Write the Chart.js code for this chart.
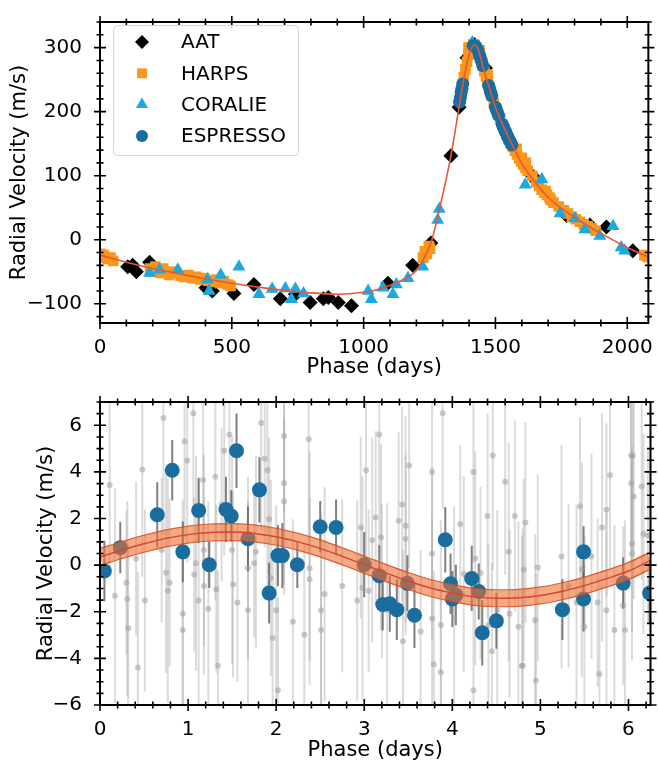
<!DOCTYPE html>
<html>
<head>
<meta charset="utf-8">
<script src="https://cdn.jsdelivr.net/npm/chart.js@4.4.1/dist/chart.umd.min.js"></script>
<style>
  html, body { margin: 0; padding: 0; background: #fff; }
  #wrap { position: relative; width: 658px; height: 764px; }
  canvas { position: absolute; left: 0; }
  #rvChart { top: 0; }
  #resChart { top: 380px; }
</style>
</head>
<body>
<div id="wrap">
  <canvas id="rvChart" width="658" height="380" style="width:658px;height:380px"></canvas>
  <canvas id="resChart" width="658" height="384" style="width:658px;height:384px"></canvas>
</div>
<script>
// ---- top panel: phase-folded RVs (days, m/s) ----
const aatPhase = [105, 124, 138, 188, 402, 426, 508, 584, 684, 741, 797, 847, 866, 904, 954,
  1092, 1186, 1255, 1331, 1362, 1392, 1420, 1462, 1640, 1650, 1770, 1858, 1921, 2021];
const aatRv = [-42, -40, -50, -35, -75, -80, -84, -70, -92, -85, -98, -92, -90, -98, -103,
  -68, -40, -5, 131, 207, 284, 305, 268, 100, 94, 38, 23, 20, -17];

const harpsPhase = [2, 8, 15, 22, 30, 40, 50,
  190, 200, 210, 220, 230, 240, 250, 262, 275, 290,
  305, 320, 335, 350, 365, 380, 395, 410, 425, 440,
  455, 470, 485, 495,
  1225, 1232, 1240, 1248, 1252,
  1368, 1374, 1380, 1386, 1392, 1398, 1404, 1410, 1416, 1422,
  1428, 1434, 1440, 1446, 1452, 1458, 1464, 1470, 1478, 1486,
  1494, 1502, 1510, 1518, 1526, 1534, 1542, 1550, 1558, 1566,
  1574, 1582, 1590, 1598, 1606, 1614, 1622, 1640, 1655, 1665,
  1675, 1685, 1695, 1705, 1720, 1740, 1760, 1775, 1790, 1805,
  1820, 1835, 1850, 1865, 1880, 2065, 2078,
  1580, 1600, 1615, 1690, 1710, 1398, 1440, 1470];
const harpsRv = [-22, -25, -24, -28, -30, -28, -33,
  -45, -50, -42, -48, -52, -45, -50, -55, -50, -52,
  -56, -58, -55, -60, -58, -62, -60, -64, -66, -62,
  -68, -65, -70, -72,
  -28, -18, -22, -10, -14,
  230, 242, 254, 266, 278, 289, 296, 301, 305, 304,
  300, 294, 288, 280, 272, 263, 255, 247, 236, 225,
  214, 205, 196, 188, 180, 172, 165, 158, 151, 145,
  139, 133, 127, 122, 117, 112, 108, 100, 90, 84,
  78, 74, 70, 66, 58, 52, 46, 41, 36, 32,
  28, 24, 21, 18, 14, -24, -27,
  142, 128, 120, 76, 62, 300, 296, 258];

const coraliePhase = [188, 226, 295, 408, 414, 458, 527, 603, 653, 703, 726, 741, 772,
  1017, 1029, 1073, 1111, 1124, 1168, 1224, 1281, 1287, 1412,
  1613, 1676, 1745, 1801, 1839, 1896, 1946, 1977, 1990];
const coralieRv = [-52, -47, -47, -62, -80, -55, -42, -85, -77, -76, -93, -77, -84,
  -80, -93, -75, -85, -70, -60, -42, 31, 48, 308,
  86, 94, 41, 33, 16, 6, 21, -12, -17];

const espressoPhase = [1364, 1367, 1370, 1373, 1376, 1416, 1422, 1428, 1434, 1440,
  1446, 1452, 1474, 1478, 1482, 1486, 1500, 1504, 1508, 1512,
  1526, 1530, 1534, 1538, 1542, 1546, 1550, 1554, 1558, 1562];
const espressoRv = [215, 222, 230, 236, 243, 303, 303, 300, 295, 288,
  280, 272, 241, 236, 230, 225, 207, 203, 198, 194,
  180, 176, 172, 169, 165, 161, 158, 154, 151, 148];

const modelPhase = [0, 100, 200, 300, 400, 500, 600, 700, 800, 900, 1000, 1050, 1100, 1150,
  1200, 1230, 1255, 1270, 1300, 1331, 1362, 1385, 1405, 1420, 1435, 1455, 1480, 1500,
  1550, 1600, 1650, 1700, 1800, 1900, 2000, 2080];
const modelRv = [-24, -35, -45, -53, -61, -68, -74, -79, -83, -85, -82, -78, -71, -62,
  -48, -28, -5, 17, 70, 131, 207, 262, 295, 304, 297, 266, 233, 207,
  160, 119, 90, 66, 35, 10, -12, -27];

const topXTicks = [0, 500, 1000, 1500, 2000];
const topYTicks = [-100, 0, 100, 200, 300];

// ---- bottom panel: residuals folded on short period (days, m/s) ----
const grayPhase = [0.11, 0.17, 0.30, 0.31, 0.32, 0.41, 0.43, 0.48, 0.51, 0.72,
  0.70, 0.75, 0.79, 0.77, 0.96, 0.94, 0.94, 0.99, 1.06, 1.07,
  1.09, 1.12, 1.17, 1.18, 1.18, 1.23, 1.31, 1.32, 1.34, 1.38,
  1.41, 1.47, 1.50, 1.51, 1.56, 1.68, 1.68, 1.75, 1.77, 1.83,
  1.87, 1.90, 1.92, 1.94, 1.96, 2.00, 2.02, 2.09, 2.09, 2.09,
  2.19, 2.32, 2.37, 2.38, 2.38, 2.51, 2.51, 2.55, 2.75, 2.92,
  2.96, 2.98, 3.02, 3.05, 3.09, 3.13, 3.17, 3.19, 3.20, 3.26,
  3.39, 3.43, 3.47, 3.47, 3.44, 3.51, 3.64, 3.77, 3.77, 3.77,
  3.79, 3.87, 3.87, 3.89, 4.02, 4.09, 4.13, 4.24, 4.26, 4.32,
  4.24, 4.40, 4.45, 4.46, 4.41, 4.51, 4.60, 4.64, 4.65, 4.71,
  4.75, 4.79, 4.80, 4.81, 4.83, 4.94, 4.95, 4.97, 5.24, 5.32,
  5.41, 5.45, 5.47, 5.50, 5.58, 5.65, 5.67, 5.70, 5.75, 5.75,
  5.79, 5.84, 5.94, 5.96, 6.03, 6.05, 6.03, 6.06, 6.04, 6.04,
  6.15, 6.17, 6.22];
const grayRv = [3.44, -1.31, -0.75, -1.45, -2.71, 0.29, -4.39, 4.10, -1.52, 6.31,
  0.65, -0.33, -0.75, -1.10, 5.30, -2.08, -2.78, 4.49, 6.52, -0.40,
  0.08, -1.52, 3.65, 0.65, -0.89, -1.87, 3.79, -1.03, -4.32, 2.60,
  4.91, 5.61, 0.65, -0.82, -1.60, -1.94, -0.12, 0.08, 0.57, 6.10,
  4.56, 4.07, 1.97, -0.55, -3.13, -1.94, -5.37, 5.54, 3.51, 2.74,
  -2.43, -2.99, 5.40, -0.61, -0.13, -1.94, -2.78, -1.24, -0.89, -1.52,
  1.62, -0.97, 4.07, -1.10, 1.07, 2.04, 5.61, 1.20, -0.68, -1.94,
  1.90, 2.60, 1.13, 1.69, -3.27, 4.28, -2.85, 4.00, 0.50, -2.29,
  -4.25, -2.57, -4.60, 6.52, -2.29, 1.76, -0.38, 4.00, 0.29, -0.34,
  -5.37, 2.11, -3.69, 4.70, -2.57, -1.94, 3.58, 0.57, -2.08, 2.11,
  -2.64, -4.32, -4.32, -0.19, 1.83, -2.36, -4.95, -0.10, 0.37, -0.89,
  -1.60, 2.53, -0.19, -2.64, 0.37, -1.60, -4.67, 1.62, 2.39, -1.94,
  3.86, -2.78, -1.73, -2.78, 4.70, 4.70, 3.51, 2.95, 0.92, 0.50,
  3.37, 1.34, 1.27];
const grayErr = [3.6, 4.6, 3.1, 4.2, 3.6, 3.3, 4.1, 4.6, 3.9, 5.0,
  3.1, 4.3, 3.6, 4.8, 4.1, 4.9, 3.7, 4.4, 3.9, 3.3,
  4.6, 5.2, 3.5, 4.1, 3.8, 4.6, 5.3, 3.6, 4.1, 3.3,
  4.5, 3.7, 4.9, 4.0, 3.4, 4.7, 3.9, 3.2, 4.1, 4.6,
  3.8, 5.0, 3.5, 4.2, 3.7, 4.5, 4.0, 3.3, 4.8, 3.6,
  4.4, 3.9, 4.7, 3.5, 5.0, 4.1, 3.4, 4.6, 3.7, 4.3,
  3.9, 4.8, 4.1, 3.5, 4.4, 3.7, 4.9, 4.0, 3.3, 4.6,
  3.8, 4.2, 3.6, 4.7, 3.9, 4.4, 3.5, 5.0, 3.7, 4.3,
  4.0, 4.5, 3.6, 4.1, 4.8, 3.4, 4.2, 3.9, 4.6, 3.7,
  4.1, 4.4, 3.8, 4.9, 3.5, 4.3, 4.0, 4.7, 3.6, 4.1,
  4.5, 5.6, 5.9, 3.9, 4.3, 3.7, 4.6, 4.0, 4.8, 3.5,
  4.2, 3.8, 4.6, 3.9, 4.4, 3.6, 4.1, 4.9, 3.7, 4.3,
  4.0, 4.5, 3.4, 4.7, 3.9, 4.1, 3.6, 4.4, 3.8, 4.6,
  4.0, 4.3, 3.7];

const bluePhase = [0.05, 0.23, 0.65, 0.82, 0.94, 1.12, 1.24, 1.43, 1.49, 1.55,
  1.68, 1.81, 1.92, 2.02, 2.07, 2.24, 2.50, 2.68, 3.00, 3.17,
  3.21, 3.29, 3.37, 3.49, 3.57, 3.92, 3.98, 4.00, 4.04, 4.22,
  4.30, 4.34, 4.50, 5.25, 5.49, 5.49, 5.94, 6.24];
const blueRv = [-0.25, 0.75, 2.16, 4.07, 0.57, 2.35, 0.02, 2.39, 2.11, 4.91,
  1.13, 3.23, -1.20, 0.41, 0.41, 0.02, 1.65, 1.62, 0.02, -0.45,
  -1.69, -1.66, -1.91, -0.78, -2.15, 1.09, -0.80, -1.45, -1.28, -0.57,
  -1.13, -2.90, -2.39, -1.91, 0.57, -1.45, -0.77, -1.20];
const blueErr = [1.3, 1.1, 1.4, 1.3, 1.3, 1.4, 1.0, 1.4, 1.1, 1.6,
  1.4, 1.4, 1.3, 1.3, 1.4, 1.0, 1.1, 1.2, 1.4, 1.3,
  1.1, 1.2, 1.3, 1.2, 1.4, 1.4, 1.3, 1.2, 1.3, 1.4,
  1.2, 1.4, 1.2, 1.3, 1.1, 1.4, 1.1, 1.3];

const sinePhase = [0, 0.25, 0.5, 0.75, 1.0, 1.25, 1.5, 1.75, 2.0, 2.25, 2.5, 2.75, 3.0,
  3.25, 3.5, 3.75, 4.0, 4.25, 4.5, 4.75, 5.0, 5.25, 5.5, 5.75, 6.0, 6.25];
const sineRv = [0.35, 0.65, 0.92, 1.15, 1.31, 1.40, 1.42, 1.36, 1.22, 1.00, 0.72, 0.38, 0.02,
  -0.34, -0.68, -0.98, -1.20, -1.36, -1.42, -1.40, -1.30, -1.12, -0.88, -0.58, -0.25, 0.20];

const botXTicks = [0, 1, 2, 3, 4, 5, 6];
const botYTicks = [-6, -4, -2, 0, 2, 4, 6];

const topTicks = { xStep: 500, xMinor: 100, yStep: 100, yMinor: 20 };
const botTicks = { xStep: 1, xMinor: 0.2, yStep: 2, yMinor: 0.5 };

// ---- helpers ----
const FONT = '"DejaVu Sans", sans-serif';
const fmt = v => String(v).replace('-', '\u2212');
const pts = (xs, ys) => xs.map((x, i) => ({ x, y: ys[i] }));

function drawMarker(ctx, style, r, x, y) {
  ctx.beginPath();
  if (style === 'rectRot') {
    ctx.moveTo(x, y - r); ctx.lineTo(x + r, y); ctx.lineTo(x, y + r); ctx.lineTo(x - r, y);
  } else if (style === 'rect') {
    const s = r * Math.SQRT1_2;
    ctx.rect(x - s, y - s, 2 * s, 2 * s);
  } else if (style === 'triangle') {
    ctx.moveTo(x, y - r);
    ctx.lineTo(x + r * 0.866, y + r * 0.5);
    ctx.lineTo(x - r * 0.866, y + r * 0.5);
  } else {
    ctx.arc(x, y, r, 0, Math.PI * 2);
  }
  ctx.closePath();
  ctx.fill();
}

function axisFrame(t) {
  return {
    id: 'axisFrame',
    afterDatasetsDraw(chart) {
      const { ctx, chartArea: a, scales: { x, y } } = chart;
      const marks = (scale, step, major) => {
        const out = [];
        for (let k = Math.ceil(scale.min / step - 1e-6); k * step <= scale.max + 1e-6; k++) {
          const v = k * step;
          const r = v / major;
          out.push({ p: scale.getPixelForValue(v), big: Math.abs(r - Math.round(r)) < 1e-6 });
        }
        return out;
      };
      ctx.save();
      ctx.strokeStyle = '#000';
      ctx.lineWidth = 1.6;
      ctx.beginPath();
      marks(x, t.xMinor, t.xStep).forEach(({ p, big }) => {
        const l = big ? 6 : 3.5;
        ctx.moveTo(p, a.bottom - l); ctx.lineTo(p, a.bottom + l);
        ctx.moveTo(p, a.top - l); ctx.lineTo(p, a.top + l);
      });
      marks(y, t.yMinor, t.yStep).forEach(({ p, big }) => {
        const l = big ? 6 : 3.5;
        ctx.moveTo(a.left - l, p); ctx.lineTo(a.left + l, p);
        ctx.moveTo(a.right - l, p); ctx.lineTo(a.right + l, p);
      });
      ctx.stroke();
      ctx.lineWidth = 2;
      ctx.strokeRect(a.left, a.top, a.right - a.left, a.bottom - a.top);
      ctx.restore();
    }
  };
}

function scales(o) {
  return {
    x: {
      type: 'linear', min: o.xMin, max: o.xMax,
      grid: { display: false }, border: { display: false },
      afterBuildTicks: s => { s.ticks = o.xTicks.map(value => ({ value })); },
      ticks: {
        maxRotation: 0, autoSkip: false,
        color: '#000', font: { family: FONT, size: 20 }, padding: 5, callback: fmt
      },
      title: {
        display: true, text: 'Phase (days)', color: '#000',
        font: { family: FONT, size: 21 }, padding: { top: 0, bottom: o.xTitlePad }
      },
      afterFit: s => { s.height = o.xHeight; }
    },
    y: {
      type: 'linear', min: o.yMin, max: o.yMax,
      grid: { display: false }, border: { display: false },
      afterBuildTicks: s => { s.ticks = o.yTicks.map(value => ({ value })); },
      ticks: {
        autoSkip: false,
        color: '#000', font: { family: FONT, size: 20 }, padding: 10, callback: fmt
      },
      title: {
        display: true, text: 'Radial Velocity (m/s)', color: '#000',
        font: { family: FONT, size: 21 }, padding: { top: o.yTitlePad, bottom: 0 }
      },
      afterFit: s => { s.width = 100; }
    }
  };
}

// ---- top chart ----
const topSets = [
  { label: 'model', data: pts(modelPhase, modelRv), showLine: true, pointRadius: 0,
    borderColor: '#e4573a', borderWidth: 1.6, cubicInterpolationMode: 'monotone', clip: 0 },
  { label: 'ESPRESSO', data: pts(espressoPhase, espressoRv), pointStyle: 'circle', pointRadius: 6.5,
    backgroundColor: '#1a6d9f', borderWidth: 0, clip: 0 },
  { label: 'CORALIE', data: pts(coraliePhase, coralieRv), pointStyle: 'triangle', pointRadius: 7.5,
    backgroundColor: '#1ba9e0', borderWidth: 0, clip: 0 },
  { label: 'HARPS', data: pts(harpsPhase, harpsRv), pointStyle: 'rect', pointRadius: 7.5,
    backgroundColor: '#fb961a', borderWidth: 0, clip: 0 },
  { label: 'AAT', data: pts(aatPhase, aatRv), pointStyle: 'rectRot', pointRadius: 7.5,
    backgroundColor: '#000', borderWidth: 0, clip: 0 }
];

const legendBox = {
  id: 'legendBox',
  afterDraw(chart) {
    const ctx = chart.ctx;
    const entries = ['AAT', 'HARPS', 'CORALIE', 'ESPRESSO']
      .map(n => chart.data.datasets.find(d => d.label === n));
    ctx.save();
    ctx.beginPath();
    ctx.roundRect(113.5, 25.5, 185, 130, 4);
    ctx.fillStyle = 'rgba(255,255,255,0.85)';
    ctx.fill();
    ctx.strokeStyle = '#d6d6d6';
    ctx.lineWidth = 1;
    ctx.stroke();
    ctx.font = '20px ' + FONT;
    ctx.textBaseline = 'middle';
    entries.forEach((d, i) => {
      const yy = 42 + i * 31.3;
      ctx.fillStyle = d.backgroundColor;
      drawMarker(ctx, d.pointStyle, d.pointStyle === 'circle' ? 6 : 7, 142, yy);
      ctx.fillStyle = '#000';
      ctx.fillText(d.label, 181, yy + 1);
    });
    ctx.restore();
  }
};

new Chart(document.getElementById('rvChart'), {
  type: 'scatter',
  data: { datasets: topSets },
  options: {
    responsive: false, animation: false, devicePixelRatio: 1, events: [],
    layout: { padding: { top: 13, right: 5, left: 0, bottom: 0 } },
    scales: scales({ xMin: 0, xMax: 2080, xTicks: topXTicks, yMin: -130, yMax: 340,
      yTicks: topYTicks, xHeight: 57, xTitlePad: 0, yTitlePad: 7 }),
    plugins: { legend: { display: false }, tooltip: { enabled: false } }
  },
  plugins: [axisFrame(topTicks), legendBox]
});

// ---- bottom chart ----
const errorBars = {
  id: 'errorBars',
  beforeDatasetsDraw(chart) {
    const { ctx, chartArea: a, scales: { x, y } } = chart;
    const sets = [
      { xs: grayPhase, ys: grayRv, es: grayErr, color: 'rgba(170,170,170,0.42)' },
      { xs: bluePhase, ys: blueRv, es: blueErr, color: 'rgba(85,85,85,0.75)' }
    ];
    ctx.save();
    ctx.beginPath();
    ctx.rect(a.left, a.top, a.right - a.left, a.bottom - a.top);
    ctx.clip();
    ctx.lineWidth = 2;
    sets.forEach(s => {
      ctx.strokeStyle = s.color;
      s.xs.forEach((v, i) => {
        const px = x.getPixelForValue(v);
        ctx.beginPath();
        ctx.moveTo(px, y.getPixelForValue(s.ys[i] - s.es[i]));
        ctx.lineTo(px, y.getPixelForValue(s.ys[i] + s.es[i]));
        ctx.stroke();
      });
    });
    ctx.restore();
  },
  beforeDatasetDraw(chart, args) {
    if (args.index !== 0) return;
    const { ctx, chartArea: a } = chart;
    const line = args.meta.dataset;
    if (line.updateControlPoints) line.updateControlPoints(a, 'x');
    const h = 8.5;
    ctx.save();
    ctx.beginPath();
    ctx.rect(a.left, a.top, a.right - a.left, a.bottom - a.top);
    ctx.clip();
    ctx.lineJoin = 'round';
    ctx.beginPath();
    line.path(ctx);
    ctx.lineWidth = 2 * h;
    ctx.strokeStyle = 'rgba(238,112,50,0.6)';
    ctx.stroke();
    [-h, h].forEach(d => {
      ctx.save();
      ctx.translate(0, d);
      ctx.beginPath();
      line.path(ctx);
      ctx.lineWidth = 1.2;
      ctx.strokeStyle = 'rgba(210,75,30,0.8)';
      ctx.stroke();
      ctx.restore();
    });
    ctx.restore();
  }
};

new Chart(document.getElementById('resChart'), {
  type: 'scatter',
  data: {
    datasets: [
      { label: 'sine', data: pts(sinePhase, sineRv), showLine: true, pointRadius: 0,
        borderColor: '#d8452a', borderWidth: 1.4, cubicInterpolationMode: 'monotone', clip: 0 },
      { label: 'ESPRESSO', data: pts(bluePhase, blueRv), pointRadius: 7.5,
        backgroundColor: '#1a6d9f', borderWidth: 0, clip: 0 },
      { label: 'all', data: pts(grayPhase, grayRv), pointRadius: 3,
        backgroundColor: 'rgba(160,160,160,0.55)', borderWidth: 0, clip: 0 }
    ]
  },
  options: {
    responsive: false, animation: false, devicePixelRatio: 1, events: [],
    layout: { padding: { top: 15, right: 6, left: 0, bottom: 0 } },
    scales: scales({ xMin: 0, xMax: 6.25, xTicks: botXTicks, yMin: -6, yMax: 7,
      yTicks: botYTicks, xHeight: 59, xTitlePad: 1, yTitlePad: 34 }),
    plugins: { legend: { display: false }, tooltip: { enabled: false } }
  },
  plugins: [axisFrame(botTicks), errorBars]
});
</script>
</body>
</html>
